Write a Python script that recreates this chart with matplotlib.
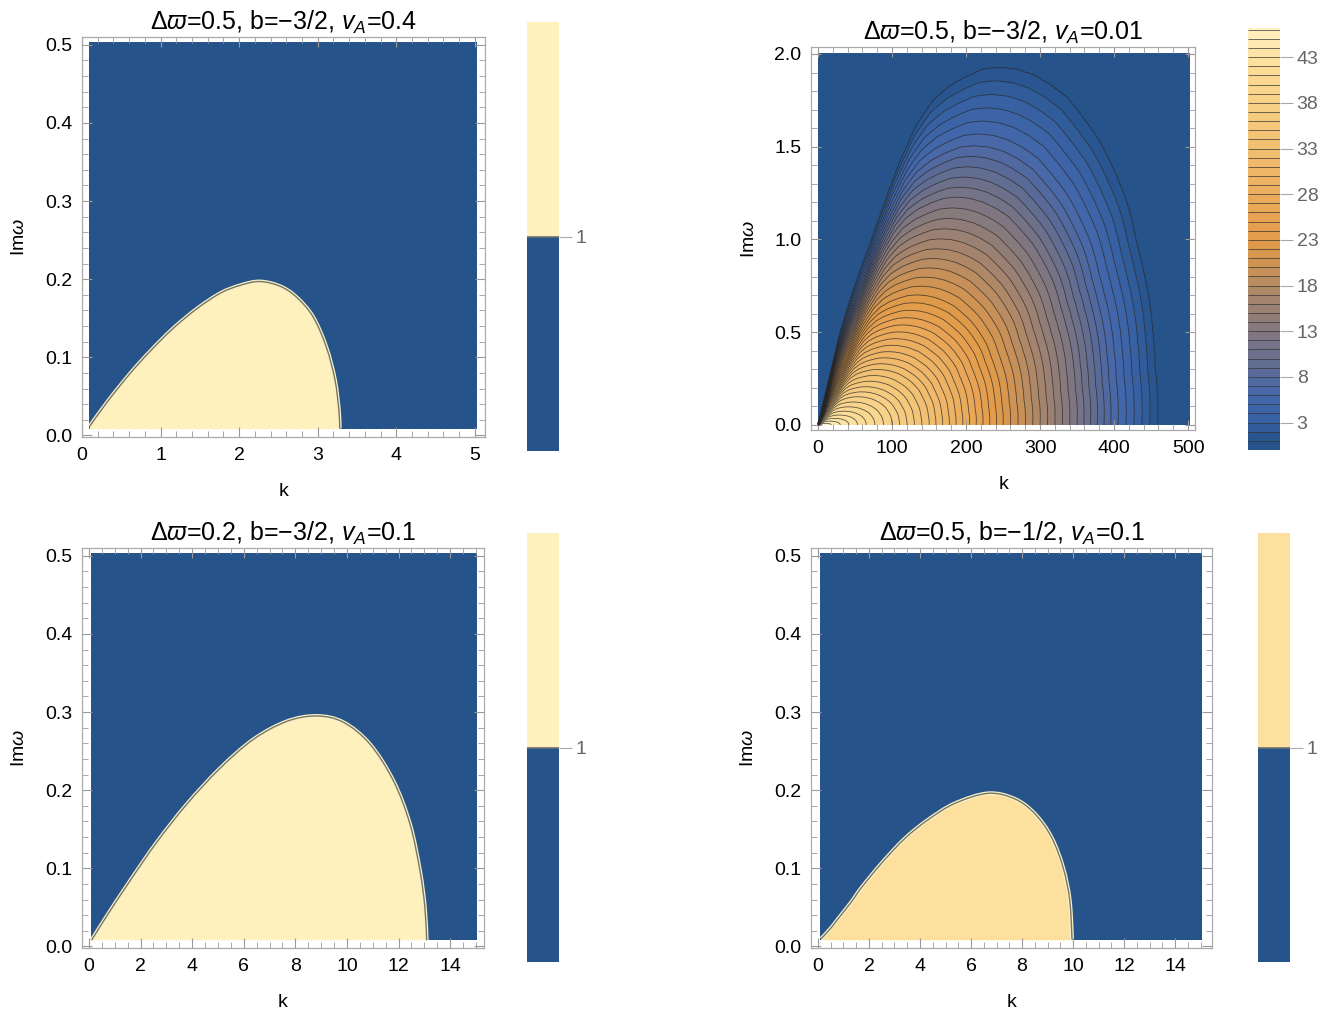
import numpy as np
import matplotlib
matplotlib.use('Agg')
import matplotlib.pyplot as plt
from matplotlib.colors import LinearSegmentedColormap, Normalize
from matplotlib.ticker import MultipleLocator, FormatStrFormatter
from matplotlib.path import Path
from matplotlib.patches import PathPatch

plt.rcParams['font.family'] = ['Liberation Sans', 'DejaVu Sans']
plt.rcParams['mathtext.fontset'] = 'custom'
plt.rcParams['mathtext.rm'] = 'Liberation Sans'
plt.rcParams['mathtext.it'] = 'Liberation Sans:italic'
plt.rcParams['mathtext.fallback'] = 'stixsans'

BLUE = '#26548a'
PALE = '#fef1bd'
PEACH = '#fde09e'

titles = [r'$\Delta\varpi$=0.5, b=−3/2, $v_A$=0.4',
          r'$\Delta\varpi$=0.5, b=−3/2, $v_A$=0.01',
          r'$\Delta\varpi$=0.2, b=−3/2, $v_A$=0.1',
          r'$\Delta\varpi$=0.5, b=−1/2, $v_A$=0.1']

# boundary of the unstable region (level 1 contour)
tl_k = [0.10, 0.33, 0.61, 0.87, 1.16, 1.46, 1.76, 2.01, 2.26, 2.52, 2.73, 2.94, 3.11, 3.22, 3.27, 3.28]
tl_w = [0.012, 0.044, 0.079, 0.108, 0.137, 0.162, 0.182, 0.192, 0.197, 0.191, 0.177, 0.152, 0.113, 0.071, 0.032, 0.009]

bl_k = [0.10, 0.69, 1.59, 2.62, 3.79, 5.08, 6.37, 7.66, 8.82, 9.86, 10.89, 11.80, 12.44, 12.83, 13.02, 13.09]
bl_w = [0.008, 0.039, 0.084, 0.133, 0.182, 0.228, 0.265, 0.288, 0.295, 0.287, 0.259, 0.212, 0.157, 0.097, 0.050, 0.008]

br_k = [0.13, 0.52, 0.78, 1.31, 1.70, 2.48, 3.40, 4.31, 5.36, 6.67, 7.71, 8.50, 9.15, 9.61, 9.87, 9.96]
br_w = [0.010, 0.024, 0.035, 0.057, 0.075, 0.106, 0.138, 0.162, 0.183, 0.196, 0.189, 0.170, 0.140, 0.101, 0.059, 0.009]

# top-right panel: outermost contour and level values along Im(omega)=0
tr_k_edge = [29, 72, 108, 133, 155, 178, 200, 223, 245, 268, 291, 313, 336, 358, 381, 403, 417, 430, 439, 448, 453, 456, 459]
tr_w_edge = [0.49, 1.00, 1.40, 1.62, 1.75, 1.83, 1.88, 1.92, 1.93, 1.92, 1.89, 1.84, 1.77, 1.66, 1.53, 1.35, 1.21, 1.00, 0.85, 0.67, 0.49, 0.31, 0.01]
tr_k_axis = [0, 30, 100, 150, 200, 250, 300, 350, 400, 459]
tr_lvl_axis = [46.5, 44, 38, 33, 27.5, 22, 17, 12, 6.5, 1]

cmap = LinearSegmentedColormap.from_list('mma', [
    (0 / 47, '#25538a'), (1 / 47, '#25538a'), (2 / 47, '#2d5a97'), (4 / 47, '#3a63a6'),
    (6 / 47, '#4568ab'), (8 / 47, '#55699c'), (10 / 47, '#676e8e'), (13 / 47, '#83787f'),
    (16 / 47, '#a08370'), (18 / 47, '#b48a64'), (20 / 47, '#cb9255'), (23 / 47, '#e29b47'),
    (26 / 47, '#e8a556'), (30 / 47, '#eeb466'), (34 / 47, '#f3c274'), (38 / 47, '#f7d087'),
    (42 / 47, '#fbdd98'), (46 / 47, '#fff0c0'), (1.0, '#fff3c8')])
norm = Normalize(0, 47)

fig = plt.figure(figsize=(13.27, 10.16), dpi=100)


def smooth(x, y):
    # bezier segments through the read points (drawn by matplotlib's Path)
    p = np.column_stack([x, y])
    verts, codes = [p[0]], [Path.MOVETO]
    n = len(p)
    for i in range(n - 1):
        p0, p1, p2, p3 = p[max(i - 1, 0)], p[i], p[i + 1], p[min(i + 2, n - 1)]
        verts += [p1 + (p2 - p0) / 6, p2 - (p3 - p1) / 6, p2]
        codes += [Path.CURVE4] * 3
    return verts, codes


def frame(ax, xlim, ylim, xmaj, xmin, ymaj, ymin, title):
    ax.set_xlim(*xlim)
    ax.set_ylim(*ylim)
    ax.xaxis.set_major_locator(MultipleLocator(xmaj))
    ax.xaxis.set_minor_locator(MultipleLocator(xmin))
    ax.yaxis.set_major_locator(MultipleLocator(ymaj))
    ax.yaxis.set_minor_locator(MultipleLocator(ymin))
    ax.xaxis.set_major_formatter(FormatStrFormatter('%d'))
    ax.yaxis.set_major_formatter(FormatStrFormatter('%.1f'))
    ax.tick_params(which='both', direction='in', top=True, right=True, color='#999999',
                   labelsize=14, pad=7)
    ax.tick_params(which='major', length=7, width=0.8)
    ax.tick_params(which='minor', length=4, width=0.6)
    for s in ax.spines.values():
        s.set_color('#aaaaaa')
        s.set_linewidth(0.9)
    ax.set_xlabel('k', fontsize=14, labelpad=14)
    ax.set_ylabel(r'Im$\omega$', fontsize=14, labelpad=12)
    ax.set_title(title, fontsize=18, pad=5)


def two_level(ax, cax, k_arc, w_arc, kdom, wdom, fill):
    ax.fill([kdom[0], kdom[1], kdom[1], kdom[0]], [wdom[0], wdom[0], wdom[1], wdom[1]],
            color=BLUE, lw=0)
    verts, codes = smooth(k_arc, w_arc)
    fverts = [(k_arc[0], wdom[0]), (k_arc[0], w_arc[0])] + verts[1:] + \
             [(k_arc[-1], wdom[0]), (k_arc[0], wdom[0])]
    fcodes = [Path.MOVETO, Path.LINETO] + codes[1:] + [Path.LINETO, Path.CLOSEPOLY]
    ax.add_patch(PathPatch(Path(fverts, fcodes), facecolor=fill, lw=0))
    ax.add_patch(PathPatch(Path(verts, codes), facecolor='none', edgecolor='#f7f0cc', lw=2.8))
    ax.add_patch(PathPatch(Path(verts, codes), facecolor='none', edgecolor='#7a765c', lw=1.0))
    cax.axhspan(0, 1, color=BLUE, lw=0)
    cax.axhspan(1, 2, color=fill, lw=0)
    cax.axhline(1, color='#6e6e6e', lw=1.2)
    cax.set_xlim(0, 1)
    cax.set_ylim(0, 2)
    cax.set_xticks([])
    cax.set_yticks([1])
    cax.yaxis.tick_right()
    cax.tick_params(axis='y', direction='out', length=9, width=0.8, color='#aaaaaa',
                    labelcolor='#666666', labelsize=14, pad=3)
    for s in cax.spines.values():
        s.set_visible(False)


# top-left
ax = fig.add_axes([0.0618, 0.5699, 0.3037, 0.3937])
cax = fig.add_axes([0.3971, 0.5561, 0.0241, 0.4222])
two_level(ax, cax, tl_k, tl_w, (0.09, 5.03), (0.008, 0.503), PALE)
frame(ax, (0, 5.13), (-0.002, 0.51), 1, 0.2, 0.1, 0.02, titles[0])

# bottom-left
ax = fig.add_axes([0.0618, 0.0669, 0.3029, 0.3937])
cax = fig.add_axes([0.3971, 0.0531, 0.0241, 0.4222])
two_level(ax, cax, bl_k, bl_w, (0.08, 15.04), (0.008, 0.503), PALE)
frame(ax, (-0.27, 15.31), (-0.002, 0.51), 2, 0.5, 0.1, 0.02, titles[2])

# bottom-right
ax = fig.add_axes([0.6112, 0.0669, 0.3022, 0.3937])
cax = fig.add_axes([0.9480, 0.0531, 0.0241, 0.4222])
two_level(ax, cax, br_k, br_w, (0.08, 15.04), (0.008, 0.503), PEACH)
frame(ax, (-0.27, 15.45), (-0.002, 0.51), 2, 0.5, 0.1, 0.02, titles[3])

# top-right: nested contours, field built from the outer contour and axis levels
ek = np.array(tr_k_edge) / 500.0
ew = np.array(tr_w_edge) / 2.0
ang = np.arctan2(ew, ek)
rad = np.hypot(ek, ew)
order = np.argsort(ang)
ang, rad = ang[order], rad[order]
EXP_K = 0.6


def inside(k, w, s):
    ks = k / s ** EXP_K / 500.0
    ws = w / s / 2.0
    a = np.arctan2(ws, ks)
    r = np.hypot(ks, ws)
    return (r <= np.interp(a, ang, rad)) & (a <= ang[-1])


kk, ww = np.meshgrid(np.linspace(0, 502, 503), np.linspace(0, 2.0, 401))
kk_c = np.maximum(kk, 1e-6)
lo = np.full(kk.shape, -12.0)
hi = np.zeros(kk.shape)
for _ in range(40):
    mid = 0.5 * (lo + hi)
    ins = inside(kk_c, ww, np.exp(mid))
    hi = np.where(ins, mid, hi)
    lo = np.where(ins, lo, mid)
s = np.exp(hi)
field = np.interp(s ** EXP_K * 459, tr_k_axis, tr_lvl_axis)
field = np.where(inside(kk_c, ww, 1.0), field, 0.5)

ax = fig.add_axes([0.6112, 0.5768, 0.2894, 0.3770])
cax = fig.add_axes([0.9405, 0.5571, 0.0241, 0.4154])
cf = ax.contourf(kk, ww, field, levels=np.arange(0, 48), cmap=cmap, norm=norm)
ax.contour(kk, ww, field, levels=np.arange(1, 47), colors='#262626', linewidths=0.6, alpha=0.75)
frame(ax, (-9.5, 509.5), (-0.027, 2.038), 100, 20, 0.5, 0.1, titles[1])

cbar = fig.colorbar(cf, cax=cax, ticks=np.arange(3, 44, 5))
cax.hlines(np.arange(1, 47), 0, 1, colors='#333333', lw=0.7, alpha=0.7)
cax.set_ylim(0, 46.2)
cbar.outline.set_visible(False)
cax.tick_params(axis='y', direction='out', length=9, width=0.8, color='#aaaaaa',
                labelcolor='#666666', labelsize=14, pad=3)

fig.savefig('out.png', dpi=100)
